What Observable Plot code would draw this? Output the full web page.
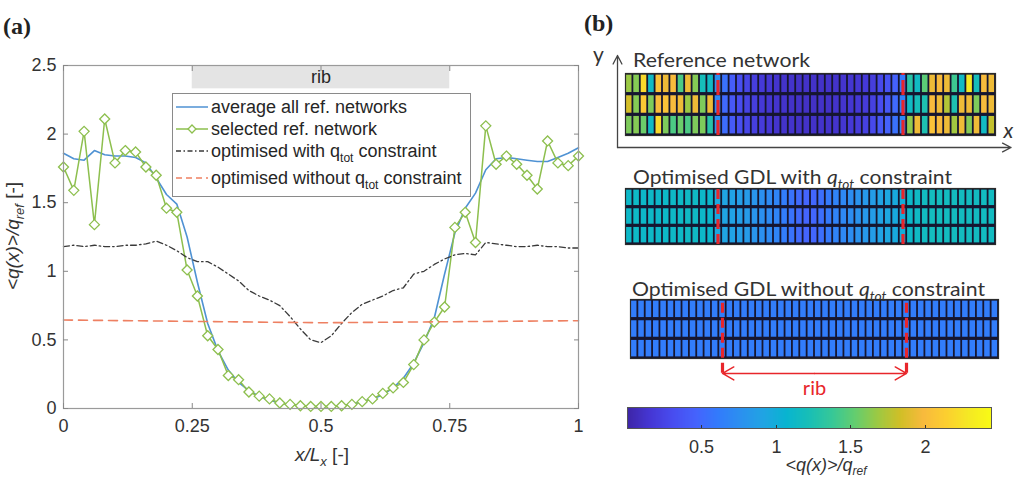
<!DOCTYPE html>
<html>
<head>
<meta charset="utf-8">
<script src="https://cdn.jsdelivr.net/npm/d3@7"></script>
<script src="https://cdn.jsdelivr.net/npm/@observablehq/plot@0.6"></script>
<style>
  body { margin: 0; background: #fff; }
  #root { position: relative; width: 1018px; height: 480px; overflow: hidden; background: #fff; }
  #root > * { position: absolute; }
  .plabel { font-family: "Liberation Serif", "Times New Roman", serif; font-weight: bold; font-size: 24px; line-height: 1; color: #222; }
</style>
</head>
<body>
<div id="root"></div>
<script>
// ---------------- data: panel (a) ----------------
const xs = [0,0.02,0.04,0.06,0.08,0.1,0.12,0.14,0.16,0.18,0.2,0.22,0.24,0.26,0.28,0.3,0.32,0.34,0.36,0.38,0.4,0.42,0.44,0.46,0.48,0.5,0.52,0.54,0.56,0.58,0.6,0.62,0.64,0.66,0.68,0.7,0.72,0.74,0.76,0.78,0.8,0.82,0.84,0.86,0.88,0.9,0.92,0.94,0.96,0.98,1];
const avgAll = [1.86,1.82,1.81,1.88,1.85,1.84,1.84,1.83,1.79,1.68,1.56,1.49,1.25,0.92,0.62,0.42,0.28,0.19,0.13,0.09,0.06,0.04,0.03,0.02,0.015,0.015,0.015,0.02,0.03,0.05,0.07,0.10,0.15,0.22,0.33,0.48,0.66,0.98,1.28,1.46,1.57,1.74,1.82,1.83,1.82,1.81,1.80,1.80,1.83,1.86,1.90];
const selectedNet = [1.76,1.59,2.02,1.34,2.11,1.79,1.88,1.87,1.76,1.70,1.46,1.43,1.01,0.82,0.53,0.43,0.24,0.21,0.12,0.09,0.07,0.04,0.03,0.02,0.015,0.015,0.015,0.02,0.03,0.05,0.07,0.11,0.15,0.19,0.32,0.50,0.63,0.74,1.32,1.43,1.21,2.06,1.78,1.84,1.78,1.70,1.60,1.95,1.79,1.77,1.84];
const optWith = [1.18,1.19,1.18,1.19,1.18,1.18,1.19,1.19,1.20,1.22,1.19,1.15,1.10,1.07,1.07,1.03,0.98,0.93,0.86,0.82,0.79,0.75,0.67,0.58,0.50,0.48,0.53,0.62,0.70,0.76,0.79,0.82,0.86,0.88,0.98,1.00,1.05,1.09,1.12,1.13,1.12,1.21,1.20,1.19,1.18,1.18,1.19,1.18,1.18,1.17,1.17];
const withoutX = [0, 0.5, 1];
const withoutVals = [0.645, 0.625, 0.64];
const seriesNames = ["average all ref. networks", "selected ref. network", "optimised with q_tot constraint", "optimised without q_tot constraint"];
const xTicks = [0, 0.25, 0.5, 0.75, 1];
const xTickLabels = ["0", "0.25", "0.5", "0.75", "1"];
const yTicks = [0, 0.5, 1, 1.5, 2, 2.5];
const yTickLabels = ["0", "0.5", "1", "1.5", "2", "2.5"];
const rib = {start: 0.25, end: 0.75, label: "rib"};

// ---------------- data: panel (b) ----------------
const nCols = 50, nRows = 3;
const refTop = [1.68,1.62,2.2,1.15,2.05,1.95,2.0,1.45,1.95,1.62,1.2,1.15, 0.75,0.55,0.42,0.32,0.25,0.2,0.17,0.15,0.13,0.12,0.12,0.11,0.11,0.11,0.11,0.12,0.12,0.13,0.14,0.15,0.17,0.2,0.28,0.35,0.45,0.6, 1.3,1.15,1.5,1.95,2.0,1.95,1.4,1.15,2.3,1.2,2.0,1.95];
const refMid = [1.85,1.62,2.1,1.6,2.0,2.05,2.0,1.95,1.68,1.95,1.6,1.95, 0.7,0.5,0.38,0.3,0.24,0.2,0.16,0.14,0.13,0.12,0.11,0.11,0.1,0.1,0.11,0.11,0.12,0.13,0.14,0.16,0.18,0.22,0.3,0.38,0.5,0.65, 1.15,1.2,1.25,2.0,1.95,1.75,1.25,1.95,1.95,1.6,2.0,1.95];
const refBot = [1.6,1.62,1.55,1.15,2.2,1.6,1.45,1.55,1.45,1.6,1.6,1.3, 0.75,0.52,0.4,0.32,0.26,0.21,0.18,0.15,0.13,0.12,0.12,0.11,0.11,0.11,0.12,0.12,0.13,0.14,0.16,0.18,0.22,0.28,0.38,0.45,0.55,0.7, 1.65,1.95,1.25,2.05,2.0,1.95,1.7,1.95,1.62,1.95,1.15,1.8];
const withCols = [1.12,1.13,1.12,1.13,1.12,1.12,1.13,1.13,1.14,1.14,1.12,1.1, 0.95,0.92,0.9,0.87,0.84,0.8,0.76,0.72,0.68,0.62,0.56,0.5,0.47,0.48,0.53,0.6,0.66,0.7,0.74,0.78,0.82,0.86,0.9,0.94,0.97,1.0, 1.12,1.14,1.16,1.18,1.18,1.17,1.17,1.17,1.17,1.17,1.16,1.16];
const withoutCols = [0.62,0.62,0.62,0.62,0.62,0.62,0.62,0.62,0.62,0.62,0.62,0.62,0.62,0.62,0.62,0.62,0.62,0.62,0.62,0.62,0.62,0.62,0.62,0.62,0.62,0.62,0.62,0.62,0.62,0.62,0.62,0.62,0.62,0.62,0.62,0.62,0.62,0.62,0.62,0.62,0.62,0.62,0.62,0.62,0.62,0.62,0.62,0.62,0.62,0.62];
const parula = ["#3e26a8","#4537d5","#484df0","#4563fd","#327cfc","#2b91ef","#20a5e3","#08b5d0","#19bfb6","#37c897","#64cd6f","#9dc943","#d1bf27","#f8ba3d","#fccf30","#f5e924","#f9fb15"];
const cbRange = [0, 2.45];
const cbTicks = [0.5, 1, 1.5, 2];
const cbTickLabels = ["0.5", "1", "1.5", "2"];

// ---------------- build ----------------
const root = document.getElementById("root");
const SANS = '"Liberation Sans", Arial, Helvetica, sans-serif';
const CAL = 'Lato, "Open Sans", sans-serif';
const blue = "#4f92d3", green = "#8dbf4e", dark = "#3a3a3a", salmon = "#ee8062", ribRed = "#e8262b";

const lineRows = xs.map((x, i) => ({x, avg: avgAll[i], sel: selectedNet[i], opt: optWith[i]}));
const withoutRows = withoutX.map((x, i) => ({x, v: withoutVals[i]}));
const xLab = new Map(xTicks.map((t, i) => [t, xTickLabels[i]]));
const yLab = new Map(yTicks.map((t, i) => [t, yTickLabels[i]]));

const plotA = Plot.plot({
  width: 600, height: 475,
  marginLeft: 63, marginRight: 22, marginTop: 65, marginBottom: 67,
  style: {fontFamily: SANS, fontSize: "18px", color: "#333", background: "transparent", overflow: "visible"},
  x: {domain: [0, 1]},
  y: {domain: [0, 2.5]},
  marks: [
    Plot.rect([rib], {x1: "start", x2: "end", y1: 2.33, y2: 2.5, fill: "#e4e4e4"}),
    Plot.text([rib], {x: d => (d.start + d.end) / 2, y: 2.415, text: "label", fill: "#262626"}),
    Plot.line(lineRows, {x: "x", y: "avg", stroke: blue, strokeWidth: 1.6}),
    Plot.line(lineRows, {x: "x", y: "sel", stroke: green, strokeWidth: 1.5}),
    Plot.dot(lineRows, {x: "x", y: "sel", symbol: "diamond2", r: 4.5, stroke: green, fill: "white", strokeWidth: 1.3}),
    Plot.line(lineRows, {x: "x", y: "opt", stroke: dark, strokeWidth: 1.3, strokeDasharray: "6,3,1.5,3"}),
    Plot.line(withoutRows, {x: "x", y: "v", stroke: salmon, strokeWidth: 1.6, strokeDasharray: "9,6"}),
    Plot.frame({stroke: "#9a9a9a", strokeWidth: 1.2}),
    Plot.axisX(xTicks, {tickSize: 0, tickPadding: 11, tickFormat: d => xLab.get(d), label: null, fill: "#333"}),
    Plot.axisY(yTicks, {tickSize: 0, tickPadding: 7, tickFormat: d => yLab.get(d), label: null, fill: "#333"}),
    Plot.axisX(xTicks, {tickSize: -5, fill: "none", stroke: "#888", label: null}),
    Plot.axisX(xTicks, {anchor: "top", tickSize: -5, fill: "none", stroke: "#888", label: null}),
    Plot.axisY(yTicks, {tickSize: -5, fill: "none", stroke: "#888", label: null}),
    Plot.axisY(yTicks, {anchor: "right", tickSize: -5, fill: "none", stroke: "#888", label: null})
  ]
});
plotA.style.left = "0px"; plotA.style.top = "0px";
root.appendChild(plotA);

function richText(sel, parts) {
  for (const [txt, o = {}] of parts) {
    const t = sel.append("tspan").text(txt);
    if (o.italic) t.attr("font-style", "italic");
    if (o.sub) t.attr("font-size", o.sub).attr("dy", o.dy);
    if (o.back) t.attr("dy", -o.back);
  }
  return sel;
}

const gA = d3.select(plotA);
// axis labels
richText(gA.append("text").attr("transform", "translate(19,236) rotate(-90)").attr("text-anchor", "middle")
  .attr("font-size", 19).attr("fill", "#333"),
  [["<q(x)>/q", {italic: true}], ["ref", {italic: true, sub: 13, dy: 5}], [" [-]", {back: 5}]]);
richText(gA.append("text").attr("x", 322).attr("y", 461).attr("text-anchor", "middle")
  .attr("font-size", 19).attr("fill", "#333"),
  [["x/L", {italic: true}], ["x", {italic: true, sub: 13, dy: 5}], [" [-]", {back: 5}]]);

// legend (a)
const lg = gA.append("g").attr("font-size", 18).attr("fill", "#262626").attr("text-anchor", "start");
lg.append("rect").attr("x", 172.5).attr("y", 93.5).attr("width", 298).attr("height", 103)
  .attr("fill", "#fff").attr("stroke", "#8a8a8a");
const legY = [107, 129, 151, 178];
const legStyle = [
  {stroke: blue, dash: null},
  {stroke: green, dash: null, marker: true},
  {stroke: dark, dash: "5,2.5,1.5,2.5"},
  {stroke: salmon, dash: "6,4"}
];
seriesNames.forEach((name, i) => {
  const y = legY[i];
  const ln = lg.append("line").attr("x1", 176).attr("x2", 208).attr("y1", y).attr("y2", y)
    .attr("stroke", legStyle[i].stroke).attr("stroke-width", 1.5);
  if (legStyle[i].dash) ln.attr("stroke-dasharray", legStyle[i].dash);
  if (legStyle[i].marker) lg.append("path").attr("d", d3.symbol(d3.symbolDiamond2, 40)()).attr("transform", `translate(192,${y})`)
    .attr("fill", "#fff").attr("stroke", green).attr("stroke-width", 1.3);
  const t = lg.append("text").attr("x", 211).attr("y", y + 6);
  const m = name.split("q_tot");
  if (m.length === 2) richText(t, [[m[0] + "q"], ["tot", {sub: 12, dy: 5}], [m[1], {back: 5}]]);
  else t.text(name);
});

// panel labels
const la = document.createElement("div"); la.className = "plabel"; la.textContent = "(a)";
la.style.left = "3px"; la.style.top = "14px"; root.appendChild(la);
const lb = document.createElement("div"); lb.className = "plabel"; lb.textContent = "(b)";
lb.style.left = "584px"; lb.style.top = "11px"; root.appendChild(lb);

// ---------------- panel (b) heatmaps ----------------
const colorScale = {
  type: "linear",
  domain: parula.map((_, i) => cbRange[0] + i * (cbRange[1] - cbRange[0]) / (parula.length - 1)),
  range: parula,
  clamp: true
};
const toCells = rowsArr => rowsArr.flatMap((vals, r) => vals.map((v, c) => ({row: r, col: c, v})));
const refCells = toCells([refBot, refMid, refTop]);
const withCells = toCells([withCols, withCols, withCols]);
const withoutCells = toCells([withoutCols, withoutCols, withoutCols]);

function heat(cells, o) {
  const svg = Plot.plot({
    width: o.mLeft + o.frameW + o.mRight, height: o.mTop + o.frameH + o.mBottom,
    marginLeft: o.mLeft, marginRight: o.mRight, marginTop: o.mTop, marginBottom: o.mBottom,
    x: {domain: [0, 1], axis: null},
    y: {domain: [0, nRows], axis: null},
    color: colorScale,
    style: {background: "transparent", overflow: "visible", fontFamily: CAL},
    marks: [
      Plot.frame({fill: "#161630"}),
      Plot.rect(cells, {x1: d => d.col / nCols, x2: d => (d.col + 1) / nCols, y1: "row", y2: d => d.row + 1,
        fill: "v", insetLeft: 0.9, insetRight: 0.9, insetTop: 1.6, insetBottom: 1.6}),
      Plot.frame({stroke: "#2a2a2a", strokeWidth: 1.2}),
      Plot.ruleX([rib.start, rib.end], {y1: o.ruleY1 ?? 0, y2: nRows, stroke: ribRed, strokeWidth: 3.2, strokeDasharray: o.dash}),
      ...(o.extra || [])
    ]
  });
  svg.style.left = o.left + "px"; svg.style.top = o.top + "px";
  root.appendChild(svg);
  const t = d3.select(svg).append("text").attr("x", o.tx).attr("y", o.ty).attr("text-anchor", "start")
    .attr("textLength", o.tlen).attr("lengthAdjust", "spacingAndGlyphs")
    .attr("font-family", CAL).attr("font-size", 20).attr("fill", "#333");
  richText(t, o.title);
  return svg;
}

heat(refCells, {
  left: 585, top: 40, mLeft: 40, mRight: 23, mTop: 33, mBottom: 20, frameW: 370, frameH: 62,
  dash: "15,5", tx: 48, ty: 27, tlen: 177, title: [["Reference network"]],
  extra: [
    Plot.arrow([0], {x1: -0.0216, y1: -0.58, x2: -0.0216, y2: 3.87, stroke: "#444", strokeWidth: 1.3, headLength: 11, headAngle: 55}),
    Plot.arrow([0], {x1: -0.0216, y1: -0.58, x2: 1.042, y2: -0.58, stroke: "#444", strokeWidth: 1.3, headLength: 11, headAngle: 55}),
    Plot.text(["y"], {x: -0.073, y: 3.9, text: d => d, fontSize: 21, fill: "#333"}),
    Plot.text(["x"], {x: 1.035, y: 0.2, text: d => d, fontSize: 21, fontStyle: "italic", fill: "#333"})
  ]
});
heat(withCells, {
  left: 585, top: 160, mLeft: 40, mRight: 23, mTop: 28, mBottom: 6, frameW: 370, frameH: 56,
  dash: "10,5", tx: 48, ty: 24, tlen: 319,
  title: [["Optimised GDL with "], ["q", {italic: true}], ["tot", {italic: true, sub: 13, dy: 5}], [" constraint", {back: 5}]]
});
heat(withoutCells, {
  left: 585, top: 270, mLeft: 45, mRight: 20, mTop: 29, mBottom: 45, frameW: 368, frameH: 59,
  dash: "10,5", ruleY1: -0.75, tx: 47, ty: 26, tlen: 353,
  title: [["Optimised GDL without "], ["q", {italic: true}], ["tot", {italic: true, sub: 13, dy: 5}], [" constraint", {back: 5}]],
  extra: [
    Plot.arrow([rib], {x1: d => (d.start + d.end) / 2, x2: "start", y1: -0.76, y2: -0.76, stroke: ribRed, strokeWidth: 1.5, headLength: 13, headAngle: 60}),
    Plot.arrow([rib], {x1: d => (d.start + d.end) / 2, x2: "end", y1: -0.76, y2: -0.76, stroke: ribRed, strokeWidth: 1.5, headLength: 13, headAngle: 60}),
    Plot.text([rib], {x: d => (d.start + d.end) / 2, y: -1.55, text: "label", fill: ribRed, fontSize: 20})
  ]
});

// ---------------- colorbar ----------------
const cbLabel = new Map(cbTicks.map((t, i) => [t, cbTickLabels[i]]));
const cb = Plot.legend({
  color: colorScale,
  width: 365, height: 72, marginTop: 0, marginBottom: 50, marginLeft: 0, marginRight: 0,
  tickSize: 8, ticks: cbTicks, tickFormat: d => cbLabel.get(d), label: null,
  style: {fontSize: "18px", fontFamily: SANS, color: "#333", background: "transparent", overflow: "visible"}
});
cb.style.left = "627px"; cb.style.top = "407px";
root.appendChild(cb);
const gcb = d3.select(cb);
gcb.selectAll(".tick line").attr("y1", -4).attr("y2", 0).attr("stroke", "#333");
gcb.append("rect").attr("x", 0.5).attr("y", 0.5).attr("width", 364).attr("height", 21).attr("fill", "none").attr("stroke", "#555");
richText(gcb.append("text").attr("x", 199).attr("y", 64).attr("text-anchor", "middle").attr("font-size", 18).attr("fill", "#333"),
  [["<q(x)>/q", {italic: true}], ["ref", {italic: true, sub: 12, dy: 4}]]);
</script>
</body>
</html>
